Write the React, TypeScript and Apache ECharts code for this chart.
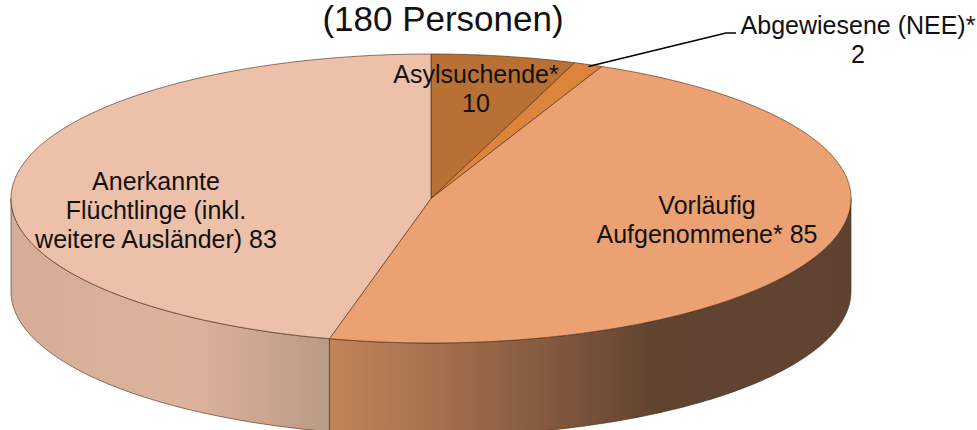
import React, { useEffect, useRef } from "react";
import * as echarts from "echarts";

const categories = ["Asylsuchende*", "Abgewiesene (NEE)*", "Vorläufig Aufgenommene*", "Anerkannte Flüchtlinge (inkl. weitere Ausländer)"];
const values = [10, 2, 85, 83];
const topColors = ["#b87034", "#db843a", "#eba171", "#edc0aa"];
const titleText = "(180 Personen)";
const labelLines = [
  ["Asylsuchende*", "10"],
  ["Abgewiesene (NEE)*", "2"],
  ["Vorläufig", "Aufgenommene* 85"],
  ["Anerkannte", "Flüchtlinge (inkl.", "weitere Ausländer) 83"],
];

const CX = 431, CY = 198.5, RX = 420, RY = 144.5, DEPTH = 93;
const FONT = "25px 'Liberation Sans', Arial, sans-serif";
const labelPos: [number, number][] = [[476, 73.5], [858, 25], [707, 205], [156, 180.5]];
const EDGE = "rgba(70,40,20,0.6)";

const sideGradients: Record<number, any> = {
  2: new echarts.graphic.LinearGradient(0, 0, 1, 0, [
    { offset: 0, color: "#c08458" },
    { offset: 0.22, color: "#a36f4d" },
    { offset: 0.42, color: "#83593f" },
    { offset: 0.62, color: "#614430" },
    { offset: 1, color: "#5f4330" },
  ]),
  3: new echarts.graphic.LinearGradient(0, 0, 1, 0, [
    { offset: 0, color: "#d5ad98" },
    { offset: 0.55, color: "#ddb39c" },
    { offset: 0.8, color: "#cba58e" },
    { offset: 1, color: "#b99b86" },
  ]),
};

const total = values.reduce((a, b) => a + b, 0);
let acc = 0;
const slices = values.map((v, i) => {
  const start = (acc / total) * 360;
  acc += v;
  return { name: categories[i], value: [start, (acc / total) * 360, i] };
});

const pt = (deg: number, dy = 0): number[] => {
  const r = (deg * Math.PI) / 180;
  return [CX + RX * Math.sin(r), CY - RY * Math.cos(r) + dy];
};
const arc = (a: number, b: number, dy = 0): number[][] => {
  const out: number[][] = [];
  const n = Math.max(2, Math.ceil(Math.abs(b - a)));
  for (let k = 0; k <= n; k++) out.push(pt(a + ((b - a) * k) / n, dy));
  return out;
};

export default function App() {
  const ref = useRef<HTMLDivElement>(null);
  useEffect(() => {
    document.body.style.margin = "0";
    document.body.style.background = "#fff";
    const chart = echarts.init(ref.current!, null, { renderer: "svg" });
    const mid = (slices[1].value[0] + slices[1].value[1]) / 2;
    const graphics: any[] = [
      {
        type: "text", x: 443, y: 18, z: 20,
        style: { text: titleText, font: "35px 'Liberation Sans', Arial, sans-serif", fill: "#111", textAlign: "center", textVerticalAlign: "middle" },
      },
      {
        type: "polyline", z: 20,
        shape: { points: [pt(mid, 2), [726, 33], [736, 33]] },
        style: { stroke: "#000", lineWidth: 1.6, fill: "none" },
      },
    ];
    labelLines.forEach((lines, i) => {
      lines.forEach((line, j) => {
        graphics.push({
          type: "text", x: labelPos[i][0], y: labelPos[i][1] + j * 29, z: 20,
          style: { text: line, font: FONT, fill: "#111", textAlign: "center", textVerticalAlign: "middle" },
        });
      });
    });
    chart.setOption({
      animation: false,
      backgroundColor: "#fff",
      graphic: graphics,
      series: [
        {
          type: "custom",
          coordinateSystem: "none",
          silent: true,
          z: 1,
          data: slices,
          renderItem: (_p: any, api: any) => {
            const a = Math.max(api.value(0), 90);
            const b = Math.min(api.value(1), 270);
            if (b <= a) return { type: "group", children: [] };
            const top = arc(a, b);
            const bottom = arc(b, a, DEPTH);
            return {
              type: "polygon",
              shape: { points: [...top, ...bottom] },
              style: { fill: sideGradients[api.value(2)] || "#999", stroke: EDGE, lineWidth: 1 },
            };
          },
        },
        {
          type: "custom",
          coordinateSystem: "none",
          silent: true,
          z: 2,
          data: slices,
          renderItem: (_p: any, api: any) => ({
            type: "polygon",
            shape: { points: [[CX, CY], ...arc(api.value(0), api.value(1))] },
            style: { fill: topColors[api.value(2)], stroke: EDGE, lineWidth: 1 },
          }),
        },
      ],
    });
    return () => chart.dispose();
  }, []);
  return <div ref={ref} style={{ width: 977, height: 430, overflow: "hidden" }} />;
}
